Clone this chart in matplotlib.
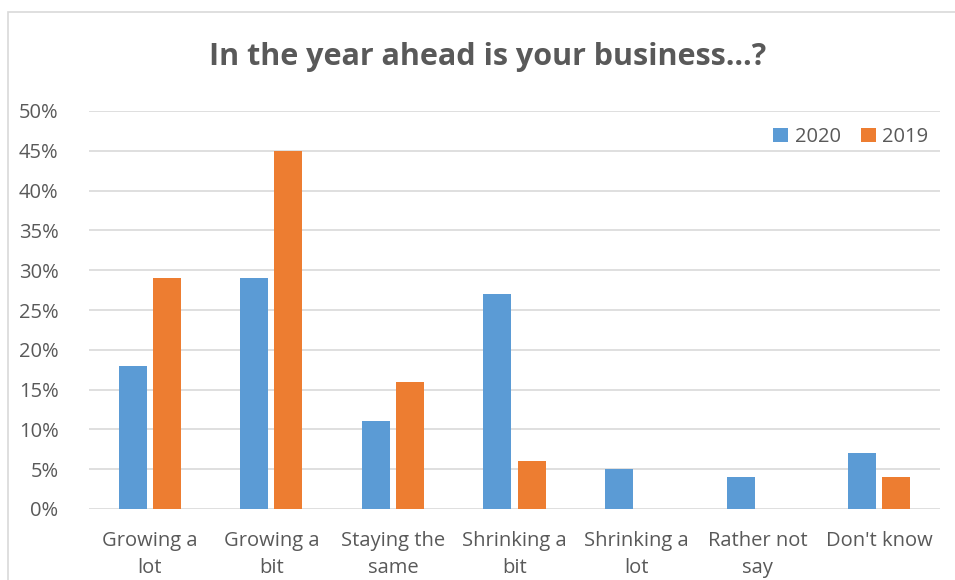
import numpy as np
import matplotlib.pyplot as plt
from matplotlib.patches import Rectangle
from matplotlib.ticker import FuncFormatter, MultipleLocator

plt.rcParams['font.family'] = ['Open Sans', 'DejaVu Sans']

categories = ['Growing a\nlot', 'Growing a\nbit', 'Staying the\nsame', 'Shrinking a\nbit',
              'Shrinking a\nlot', 'Rather not\nsay', "Don't know"]
vals_2020 = [18, 29, 11, 27, 5, 4, 7]
vals_2019 = [29, 45, 16, 6, 0, 0, 4]

blue = '#5B9BD5'
orange = '#ED7D31'
txt = '#595959'
grid = '#D9D9D9'

fig = plt.figure(figsize=(9.55, 5.8), dpi=100)
# chart frame
fig.patches.append(Rectangle((8 / 955, -0.05), 1.0, 1 - 12 / 580 + 0.05,
                             transform=fig.transFigure, fill=False,
                             edgecolor='#D9D9D9', linewidth=1.2))

ax = fig.add_axes([89 / 955, 1 - 509 / 580, (940 - 89) / 955, (509 - 111) / 580])

x = np.arange(len(categories))
w = 0.23
off = 0.14
ax.bar(x - off, vals_2020, w, color=blue, label='2020', zorder=3)
ax.bar(x + off, vals_2019, w, color=orange, label='2019', zorder=3)

ax.set_xlim(-0.5, len(categories) - 0.5)
ax.set_ylim(0, 50)
ax.yaxis.set_major_locator(MultipleLocator(5))
ax.yaxis.set_major_formatter(FuncFormatter(lambda v, p: f'{v:.0f}%'))
ax.grid(axis='y', color=grid, linewidth=1.2, zorder=0)
for s in ax.spines.values():
    s.set_visible(False)
ax.tick_params(length=0, labelsize=14.5, colors=txt)
ax.tick_params(axis='y', pad=22)
ax.tick_params(axis='x', pad=16)
ax.set_xticks(x)
ax.set_xticklabels(categories, linespacing=1.45)

leg = ax.legend(loc='upper right', bbox_to_anchor=(1.0, 0.99), ncol=2, frameon=False,
                fontsize=14.5, handlelength=0.75, handleheight=0.75, handletextpad=0.3,
                columnspacing=1.0, borderaxespad=0.2)
for t in leg.get_texts():
    t.set_color(txt)

fig.text(488 / 955, 1 - 57 / 580, 'In the year ahead is your business…?', ha='center', va='center',
         fontsize=22, fontweight='bold', color=txt)

fig.savefig('out.png', dpi=100)
